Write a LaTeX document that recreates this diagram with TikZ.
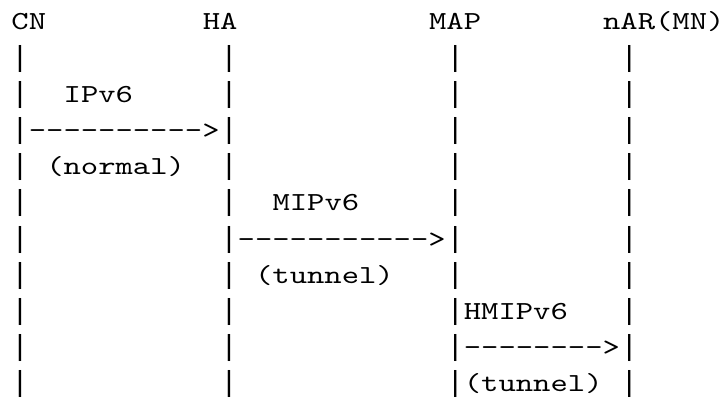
\documentclass[tikz,border=0pt]{standalone}
\usepackage{fontspec}
\setmonofont{lmmono10-regular.otf}[FakeStretch=1.27]
\newfontfamily\barfont{Liberation Mono}
\begin{document}
\begin{tikzpicture}[x=17.4pt,y=-36.2pt,
  ch/.style={inner sep=0pt,outer sep=0pt,anchor=base west,
             font=\ttfamily\fontsize{26}{26}\selectfont},
  lifebar/.style={inner sep=0pt,outer sep=0pt,anchor=base west,
             font=\barfont\fontsize{29}{29}\selectfont}]
\useasboundingbox (0pt,0pt) rectangle (724pt,-398pt);
\begin{scope}[shift={(11.5pt,-30pt)}]
  % entity names
  \node[ch] (cn)  at (0,0)  {CN};
  \node[ch] (ha)  at (11,0) {HA};
  \node[ch] (map) at (24,0) {MAP};
  \node[ch] (nar) at (34,0) {nAR(MN)};
  % life lines
  \foreach \r in {1,...,10}
    \foreach \c/\n in {0/cn,12/ha,25/map,35/nar}
      \node[lifebar] (bar-\n-\r) at (\c,\r) {|};
  % CN -> HA
  \node[ch] (lab1) at (3,2)  {IPv6};
  \node[ch] (arr1) at (1,3)  {---------->};
  \node[ch] (sub1) at (2,4)  {(normal)};
  % HA -> MAP
  \node[ch] (lab2) at (15,5) {MIPv6};
  \node[ch] (arr2) at (13,6) {----------->};
  \node[ch] (sub2) at (14,7) {(tunnel)};
  % MAP -> nAR
  \node[ch] (lab3) at (26,8) {HMIPv6};
  \node[ch] (arr3) at (26,9) {-------->};
  \node[ch] (sub3) at (26,10) {(tunnel)};
\end{scope}
\end{tikzpicture}
\end{document}
